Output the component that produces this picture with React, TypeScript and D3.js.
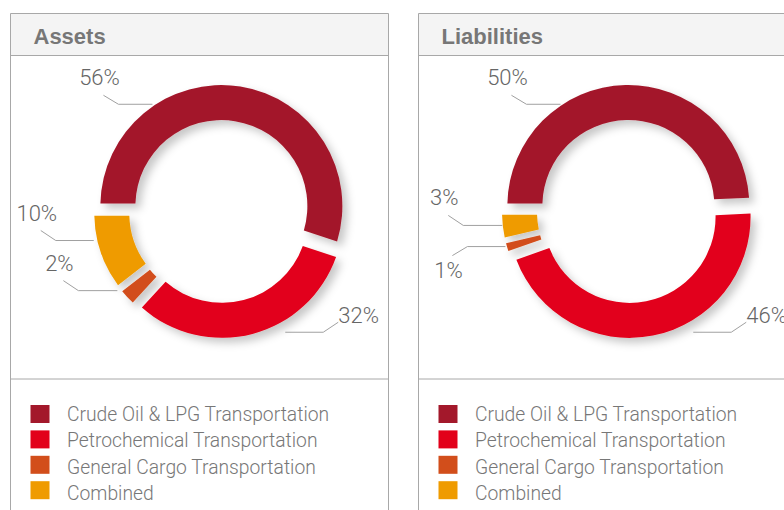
import React from "react";
import * as d3 from "d3";

const categories = [
  "Crude Oil & LPG Transportation",
  "Petrochemical Transportation",
  "General Cargo Transportation",
  "Combined",
];
const assetsValues = [56, 32, 2, 10];
const liabilitiesValues = [50, 46, 1, 3];
const panelTitles = ["Assets", "Liabilities"];
const colors = ["#a3182b", "#e2001a", "#d24e1b", "#ef9b00"];

type LabelLayout = { angle: number; r: number; len: number; dir: number; diagY: number; mode: "above" | "right" | "below" };

const assetsLabels: LabelLayout[] = [
  { angle: -32.4, r: 127, len: 34, dir: -1, diagY: -9, mode: "above" },
  { angle: 151.8, r: 137, len: 38, dir: 1, diagY: -10, mode: "right" },
  { angle: -127.5, r: 130, len: 39, dir: -1, diagY: -10, mode: "above" },
  { angle: -102.9, r: 130, len: 38, dir: -1, diagY: -10, mode: "above" },
];
const liabilitiesLabels: LabelLayout[] = [
  { angle: -32.4, r: 127, len: 34, dir: -1, diagY: -9, mode: "above" },
  { angle: 151.8, r: 137, len: 38, dir: 1, diagY: -10, mode: "right" },
  { angle: -105.9, r: 128, len: 38, dir: -1, diagY: 9, mode: "below" },
  { angle: -96.3, r: 127, len: 39, dir: -1, diagY: -10, mode: "above" },
];

const W = 784;
const H = 510;
const PANEL_W = 378;
const HEADER_H = 42;
const CX = 210;
const CY = 198;
const OUTER = 121;
const INNER = 86;
const EXPLODE = 5.5;
const PAD_R = 103;
const PAD = 5 / PAD_R;

function Panel({ x, title, values, labels }: { x: number; title: string; values: number[]; labels: LabelLayout[] }) {
  const pie = d3
    .pie<number>()
    .sort(null)
    .value((d) => d)
    .startAngle(-Math.PI / 2)
    .endAngle((3 * Math.PI) / 2)
    .padAngle(PAD);
  const arcs = pie(values);
  const arc = d3
    .arc<d3.PieArcDatum<number>>()
    .innerRadius(INNER)
    .outerRadius(OUTER)
    .padRadius(PAD_R);
  const rad = (deg: number) => (deg * Math.PI) / 180;
  const top = 13.5;
  return (
    <g transform={`translate(${x},${top})`}>
      <rect x={0} y={0} width={PANEL_W} height={HEADER_H} fill="#f4f4f4" />
      <path d={`M0,${H}V0H${PANEL_W}V${H}`} fill="none" stroke="#a8a8a8" strokeWidth={1} />
      <line x1={0} x2={PANEL_W} y1={HEADER_H} y2={HEADER_H} stroke="#a8a8a8" strokeWidth={1} />
      <line x1={0} x2={PANEL_W} y1={365.5} y2={365.5} stroke="#a8a8a8" strokeWidth={1} />
      <text x={23} y={30} fontFamily="'Liberation Sans', Arial, sans-serif" fontWeight="bold" fontSize={22} fill="#777">
        {title}
      </text>
      <g transform={`translate(${CX},${CY})`} filter="url(#shadow)">
        {arcs.map((a, i) => {
          const mid = (a.startAngle + a.endAngle) / 2;
          const dx = Math.sin(mid) * EXPLODE;
          const dy = -Math.cos(mid) * EXPLODE;
          return <path key={i} d={arc(a) || ""} fill={colors[i]} transform={`translate(${dx},${dy})`} />;
        })}
      </g>
      <g transform={`translate(${CX},${CY})`}>
        {arcs.map((a, i) => {
          const L = labels[i];
          const p0x = Math.sin(rad(L.angle)) * L.r;
          const p0y = -Math.cos(rad(L.angle)) * L.r;
          const p1x = p0x + L.dir * L.len;
          const p2x = p1x + L.dir * 15;
          const p2y = p0y + L.diagY;
          let tx = p2x - 4;
          let ty = p2y - 10;
          let anchor = "middle";
          if (L.mode === "right") {
            tx = p2x;
            ty = p2y + 1;
            anchor = "start";
          } else if (L.mode === "below") {
            ty = p2y + 22;
          }
          return (
            <g key={i}>
              <polyline
                points={`${p0x},${p0y} ${p1x},${p0y} ${p2x},${p2y}`}
                fill="none"
                stroke="#a0a0a0"
                strokeWidth={1}
              />
              <text x={tx} y={ty} textAnchor={anchor} fontFamily="Roboto, 'Liberation Sans', sans-serif" fontWeight={300} fontSize={22} fill="#666">
                {`${values[i]}%`}
              </text>
            </g>
          );
        })}
      </g>
      {categories.map((c, i) => (
        <g key={c}>
          <rect x={20} y={391.5 + i * 25.4} width={19} height={18} fill={colors[i]} />
          <text x={56.5} y={407.5 + i * 26.4} fontFamily="Roboto, 'Liberation Sans', sans-serif" fontWeight={300} fontSize={19.3} fill="#777">
            {c}
          </text>
        </g>
      ))}
    </g>
  );
}

export default function App() {
  return (
    <svg
      width={W}
      height={H}
      style={{ position: "fixed", left: 0, top: 0, display: "block", background: "#fff" }}
    >
      <defs>
        <filter id="shadow" x="-30%" y="-30%" width="160%" height="160%">
          <feDropShadow dx={5} dy={5} stdDeviation={4.5} floodColor="#000" floodOpacity={0.22} />
        </filter>
      </defs>
      <Panel x={10.5} title={panelTitles[0]} values={assetsValues} labels={assetsLabels} />
      <Panel x={418.5} title={panelTitles[1]} values={liabilitiesValues} labels={liabilitiesLabels} />
    </svg>
  );
}
